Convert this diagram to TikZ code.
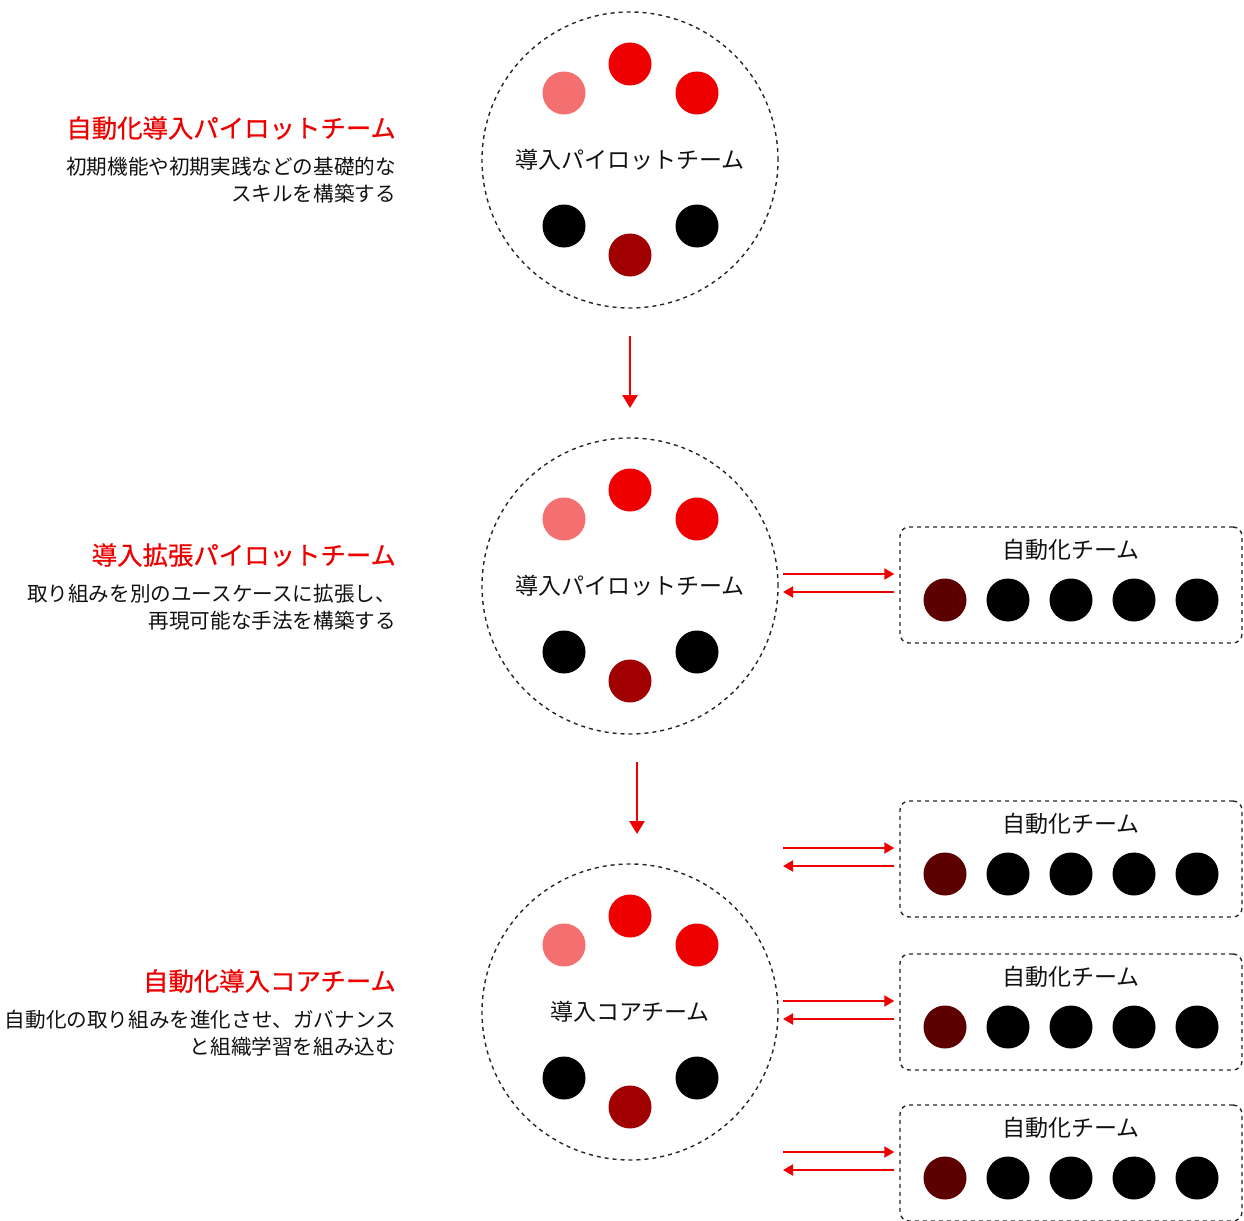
\documentclass[tikz,border=0pt]{standalone}
\usepackage{fontspec}
\setmainfont{Noto Sans CJK JP}
\newfontfamily\ttlfont[FakeBold=0.6]{Noto Sans CJK JP}
\usetikzlibrary{arrows.meta,calc}
\definecolor{cred}{HTML}{EE0000}
\definecolor{cpink}{HTML}{F47070}
\definecolor{cdark}{HTML}{A00000}
\definecolor{cdeep}{HTML}{5C0000}
\definecolor{ctext}{HTML}{111111}
\tikzset{
  dot/.style={circle,minimum size=43pt,inner sep=0pt,fill=#1},
  team/.style={circle,draw=black!85,dash pattern=on 4pt off 4pt,line width=1.4pt,minimum size=296pt,inner sep=0pt},
  tbox/.style={draw=black!85,rounded corners=9pt,dash pattern=on 4pt off 4pt,line width=1.4pt,minimum width=342pt,minimum height=116pt,inner sep=0pt},
  flow/.style={draw=cred,line width=2pt,-{Triangle[width=11pt,length=10pt]}},
  vflow/.style={draw=cred,line width=2.6pt,-{Triangle[width=15pt,length=13pt]}},
  ttl/.style={text=cred,font=\ttlfont\fontsize{25.4}{30}\selectfont,anchor=east,inner sep=0pt},
  body/.style={text=ctext,font=\fontsize{20.6}{27}\selectfont,anchor=east,align=right,inner sep=0pt},
  lbl/.style={text=ctext,font=\fontsize{23}{28}\selectfont,inner sep=0pt}
}
\newcommand\TeamCirc[4]{% name, x, y, label
  \node[team] (#1) at (#2,#3) {};
  \node[lbl] (#1l) at (#2,#3) {#4};
  \node[dot=cred]  (#1a) at ($(#1)+(0,-96)$) {};
  \node[dot=cpink] (#1b) at ($(#1)+(-66,-67)$) {};
  \node[dot=cred]  (#1c) at ($(#1)+(67,-67)$) {};
  \node[dot=black] (#1d) at ($(#1)+(-66,66)$) {};
  \node[dot=black] (#1e) at ($(#1)+(67,66)$) {};
  \node[dot=cdark] (#1f) at ($(#1)+(0,95)$) {};
}
\newcommand\TeamBox[2]{% name, top y
  \node[tbox] (#1) at (1071,#2+58) {};
  \node[lbl] (#1t) at (1071,#2+23) {自動化チーム};
  \node[dot=cdeep] (#1a) at (945,#2+73) {};
  \node[dot=black] (#1b) at (1008,#2+73) {};
  \node[dot=black] (#1c) at (1071,#2+73) {};
  \node[dot=black] (#1d) at (1134,#2+73) {};
  \node[dot=black] (#1e) at (1197,#2+73) {};
  \coordinate (#1p) at (783,#2+47);
  \coordinate (#1q) at (783,#2+65);
  \draw[flow] (#1p) -- ([xshift=-5pt]#1.west |- #1p);
  \draw[flow] ([xshift=-5pt]#1.west |- #1q) -- (#1q);
}
\begin{document}
\begin{tikzpicture}[x=1pt,y=-1pt]
\useasboundingbox (0,0) rectangle (1244,1220);

% left texts
\node[ttl] (t1) at (396,128) {自動化導入パイロットチーム};
\node[body] (d1) at (396,180.5) {初期機能や初期実践などの基礎的な\\スキルを構築する};
\node[ttl] (t2) at (396,555) {導入拡張パイロットチーム};
\node[body] (d2) at (396,607) {取り組みを別のユースケースに拡張し、\\再現可能な手法を構築する};
\node[ttl] (t3) at (396,981) {自動化導入コアチーム};
\node[body] (d3) at (396,1033) {自動化の取り組みを進化させ、ガバナンス\\と組織学習を組み込む};

% circles
\TeamCirc{c1}{630}{160}{導入パイロットチーム}
\TeamCirc{c2}{630}{586}{導入パイロットチーム}
\TeamCirc{c3}{630}{1012}{導入コアチーム}

% vertical arrows
\coordinate (v1s) at (630,336);
\coordinate (v1e) at (630,408);
\coordinate (v2s) at (637,762);
\coordinate (v2e) at (637,834);
\draw[vflow] (v1s) -- (v1e);
\draw[vflow] (v2s) -- (v2e);

% boxes
\TeamBox{b1}{527}
\TeamBox{b2}{801}
\TeamBox{b3}{954}
\TeamBox{b4}{1105}
\end{tikzpicture}
\end{document}
